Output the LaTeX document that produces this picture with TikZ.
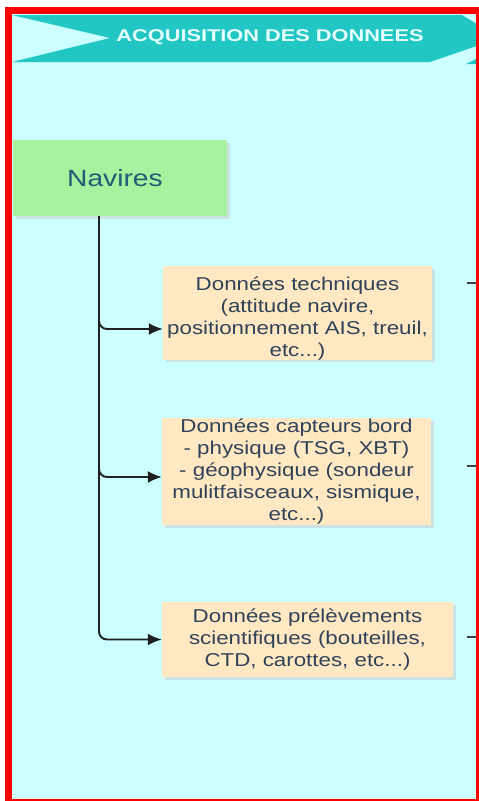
\documentclass[tikz,border=0pt]{standalone}
\usepackage{fontspec}
\setmainfont{Liberation Sans}
\newfontfamily\acqboxfont[FakeStretch=1.2]{Liberation Sans}
\newfontfamily\acqbannerfont[FakeStretch=1.28]{Liberation Sans}
\usepackage{xcolor}
\usetikzlibrary{arrows.meta}
\usetikzlibrary{calc}
\usetikzlibrary{shadows}

\definecolor{acqcyan}{HTML}{CCFFFF}
\definecolor{acqteal}{HTML}{22C7C3}
\definecolor{acqtitle}{HTML}{E4FFFF}
\definecolor{acqgreen}{HTML}{A6F29E}
\definecolor{acqnavtext}{HTML}{1E5C78}
\definecolor{acqorange}{HTML}{FFE8C2}
\definecolor{acqboxtext}{HTML}{2F425A}
\definecolor{acqred}{HTML}{FF0000}

\tikzset{
  shipbox/.style={rectangle, fill=acqgreen, text=acqnavtext,
    minimum width=214pt, minimum height=76pt, inner sep=0pt,
    drop shadow={shadow xshift=2.5pt, shadow yshift=-2.5pt, fill=black!22},
    font={\acqboxfont\fontsize{23.5}{28}\selectfont}},
  databox/.style={rectangle, fill=acqorange, text=acqboxtext, align=center,
    inner sep=0pt,
    drop shadow={shadow xshift=2.5pt, shadow yshift=-2.5pt, fill=black!22},
    font={\acqboxfont\fontsize{18.6}{22}\selectfont}},
  feed/.style={draw=black!88, line width=1.9pt, rounded corners=8pt,
    -{Latex[length=14pt,width=12pt]}},
  stub/.style={draw=black!75, line width=1.4pt}
}

\begin{document}
\begin{tikzpicture}[x=1pt,y=-1pt]
        \newcommand{\acqframeleft}{12}
        \newcommand{\acqframetop}{14}
        \newcommand{\acqframeright}{476}
        \newcommand{\acqframebottom}{799}
        \newcommand{\acqtrunkx}{99}
        \useasboundingbox (0,0) rectangle (479,801);
        \fill[white] (0,0) rectangle (479,801);
        % frame and background
        \fill[acqred] (5,7) rectangle (479,800.6);
        \fill[acqcyan] (\acqframeleft,\acqframetop) rectangle (\acqframeright,\acqframebottom);
        % banner
        \begin{scope}
            \clip (\acqframeleft,\acqframetop) rectangle (\acqframeright,\acqframebottom);
            \fill[acqteal] (\acqframeleft,15) -- (462,15) -- (500,38) -- (430,62)
                -- (\acqframeleft,62) -- (110,38) -- cycle;
            \fill[acqteal] (466,64) -- (480,57) -- (480,64) -- cycle;
        \end{scope}
        \node[text=acqtitle, font={\acqbannerfont\bfseries\fontsize{17}{20}\selectfont}]
            (title) at (270,37.5) {ACQUISITION DES DONNEES};
        % source
        \node[shipbox] (navires) at (120,178) {Navires\hspace*{10pt}};
        % data boxes
        \node[databox, minimum width=269pt, minimum height=90pt] (tech) at (297.5,313)
            {\rule{0pt}{24pt}Données techniques\\(attitude navire,\\positionnement AIS, treuil,\\etc...)};
        \node[databox, minimum width=269pt, minimum height=107pt] (capteurs) at (296.5,471.5)
            {Données capteurs bord\\- physique (TSG, XBT)\\- géophysique (sondeur\\mulitfaisceaux, sismique,\\etc...)};
        \node[databox, minimum width=291pt, minimum height=75pt] (prelev) at (307.5,639.5)
            {Données prélèvements\\scientifiques (bouteilles,\\CTD, carottes, etc...)};
        % links
        \coordinate (trunk) at (\acqtrunkx,216);
        \draw[feed] (trunk) |- ([yshift=-16pt]tech.west);
        \draw[feed] (trunk) |- ([yshift=-5.5pt]capteurs.west);
        \draw[feed] (trunk) |- (prelev.west);
        % outgoing stubs
        \coordinate (techout) at (467,283);
        \coordinate (capteursout) at (467,466);
        \coordinate (prelevout) at (467,637);
        \draw[stub] (techout) -- (\acqframeright,283);
        \draw[stub] (capteursout) -- (\acqframeright,466);
        \draw[stub] (prelevout) -- (\acqframeright,637);
    \end{tikzpicture}
\end{document}
